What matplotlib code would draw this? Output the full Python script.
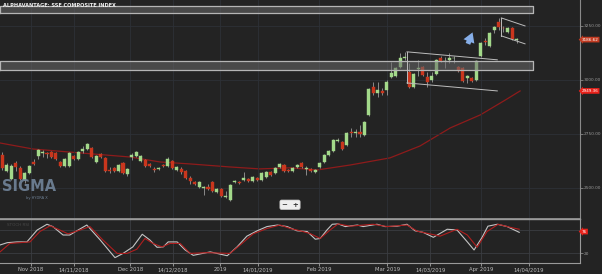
import matplotlib
matplotlib.use("Agg")
import matplotlib.pyplot as plt
import numpy as np

# daily candles, one per trading day (index 0 .. 115)
opens = [2653, 2579, 2542, 2616, 2593, 2537, 2569, 2620, 2648, 2662,
         2662, 2667, 2662, 2620, 2602, 2602, 2648, 2634, 2671, 2681,
         2685, 2620, 2657, 2639, 2583, 2593, 2579, 2616, 2565, 2644,
         2648, 2625, 2630, 2611, 2588, 2588, 2606, 2602, 2625, 2583,
         2588, 2579, 2546, 2528, 2505, 2500, 2505, 2528, 2481, 2495,
         2458, 2444, 2528, 2528, 2537, 2542, 2532, 2546, 2537, 2551,
         2574, 2569, 2597, 2606, 2583, 2579, 2597, 2616, 2588, 2588,
         2574, 2597, 2620, 2653, 2671, 2718, 2713, 2699, 2759, 2755,
         2759, 2745, 2838, 2968, 2940, 2949, 2954, 3014, 3019, 3060,
         3102, 3037, 2968, 3051, 3060, 3014, 3000, 3028, 3102, 3086,
         3093, 3100, 3060, 3056, 3009, 3009, 3000, 3111, 3181, 3157,
         3232, 3269, 3241, 3222, 3241, 3185]
highs = [2667, 2616, 2611, 2625, 2602, 2574, 2606, 2634, 2681, 2676,
         2667, 2671, 2667, 2625, 2639, 2667, 2653, 2671, 2694, 2708,
         2690, 2653, 2662, 2644, 2597, 2597, 2611, 2620, 2593, 2662,
         2671, 2653, 2634, 2616, 2597, 2597, 2611, 2644, 2630, 2602,
         2597, 2583, 2556, 2532, 2532, 2509, 2518, 2532, 2500, 2500,
         2486, 2518, 2537, 2532, 2574, 2546, 2556, 2551, 2574, 2579,
         2579, 2597, 2616, 2611, 2588, 2597, 2611, 2620, 2602, 2593,
         2588, 2620, 2657, 2676, 2727, 2732, 2718, 2759, 2778, 2773,
         2792, 2810, 2963, 2991, 2991, 2963, 3000, 3083, 3060, 3125,
         3130, 3079, 3032, 3093, 3065, 3037, 3037, 3097, 3111, 3107,
         3125, 3111, 3065, 3060, 3023, 3014, 3093, 3176, 3195, 3222,
         3250, 3287, 3250, 3245, 3245, 3195]
lows = [2583, 2574, 2537, 2579, 2537, 2523, 2565, 2606, 2634, 2644,
        2639, 2639, 2630, 2597, 2597, 2597, 2630, 2630, 2662, 2676,
        2639, 2616, 2639, 2574, 2569, 2574, 2574, 2565, 2556, 2630,
        2644, 2620, 2597, 2597, 2574, 2583, 2597, 2597, 2588, 2579,
        2565, 2542, 2518, 2514, 2500, 2468, 2491, 2481, 2477, 2458,
        2454, 2440, 2523, 2518, 2532, 2528, 2528, 2532, 2532, 2546,
        2556, 2565, 2593, 2574, 2574, 2574, 2593, 2593, 2560, 2574,
        2569, 2593, 2616, 2648, 2667, 2713, 2676, 2694, 2736, 2736,
        2736, 2741, 2833, 2931, 2921, 2931, 2931, 3009, 3014, 3056,
        3093, 2963, 2963, 3019, 3019, 2968, 2991, 3023, 3083, 3056,
        3079, 3079, 3037, 2991, 2986, 2991, 2995, 3107, 3162, 3153,
        3218, 3232, 3222, 3218, 3185, 3171]
closes = [2593, 2606, 2602, 2597, 2542, 2569, 2602, 2611, 2676, 2667,
          2657, 2644, 2634, 2602, 2634, 2662, 2634, 2667, 2681, 2704,
          2644, 2648, 2644, 2579, 2579, 2579, 2606, 2569, 2588, 2653,
          2667, 2648, 2602, 2602, 2583, 2593, 2602, 2634, 2593, 2597,
          2574, 2546, 2532, 2518, 2528, 2505, 2495, 2486, 2495, 2463,
          2463, 2514, 2532, 2523, 2546, 2532, 2551, 2537, 2569, 2574,
          2560, 2593, 2611, 2579, 2579, 2593, 2606, 2597, 2593, 2579,
          2583, 2616, 2653, 2671, 2722, 2722, 2681, 2755, 2755, 2759,
          2750, 2806, 2958, 2940, 2954, 2940, 2991, 3032, 3056, 3102,
          3107, 2968, 3028, 3056, 3023, 2991, 3019, 3093, 3088, 3088,
          3102, 3102, 3042, 2995, 3019, 2995, 3088, 3171, 3176, 3218,
          3245, 3245, 3239, 3241, 3190, 3186.62]

# moving average (read at a few points)
ma_idx = [-0.5, 6.9, 17.4, 28.6, 35.3, 42.0, 50.9, 57.6, 64.4, 70.4,
          77.8, 86.7, 93.4, 100.2, 106.9, 112.5, 115.8]
ma_vals = [2708, 2680, 2662, 2643, 2620, 2611, 2597, 2588, 2593, 2583,
           2606, 2639, 2694, 2778, 2838, 2907, 2949]

# oscillator panel
k_idx = [-0.5, 1.1, 3.3, 5.5, 7.8, 10.0, 11.3, 13.6, 15.1, 17.4,
         18.9, 21.9, 25.2, 27.0, 29.2, 31.3, 33.0, 34.6, 36.0, 37.1,
         39.1, 40.9, 42.7, 46.5, 50.3, 52.5, 54.7, 57.0, 59.2, 61.5,
         63.7, 65.9, 68.2, 70.0, 71.1, 72.6, 73.8, 75.1, 76.7, 79.4,
         80.7, 83.8, 85.6, 88.3, 90.5, 92.3, 94.1, 96.4, 99.5, 101.7,
         104.0, 105.5, 107.3, 108.6, 110.7, 112.9, 115.6]
k_vals = [41, 47, 49, 49, 80, 95, 89, 67, 67, 83,
          93, 54, 8, 19, 36, 69, 54, 35, 36, 49,
          49, 28, 14, 23, 13, 36, 64, 78, 89, 93,
          89, 78, 76, 56, 58, 80, 95, 96, 89, 93,
          89, 95, 89, 90, 95, 78, 74, 61, 82, 80,
          49, 28, 61, 90, 95, 89, 74]
d_idx = [-0.5, 1.7, 6.2, 8.4, 10.7, 12.5, 14.7, 17.4, 19.6, 22.5,
         25.7, 27.9, 30.1, 31.9, 33.7, 35.7, 37.5, 39.8, 42.0, 45.8,
         50.9, 53.2, 56.1, 59.2, 62.1, 64.4, 66.6, 68.8, 71.1, 73.3,
         75.1, 77.8, 82.9, 86.1, 90.5, 92.8, 95.2, 97.9, 101.7, 104.0,
         106.2, 108.4, 110.9, 113.6, 115.6]
d_vals = [23, 45, 49, 76, 91, 82, 70, 80, 89, 54,
          19, 19, 30, 58, 45, 36, 45, 45, 19, 21,
          19, 41, 70, 84, 93, 84, 78, 71, 58, 80,
          96, 90, 95, 89, 93, 77, 71, 64, 82, 67,
          35, 76, 95, 87, 82]

tick_pos = [6.4, 16.0, 28.6, 38.2, 48.7, 57.2, 70.8, 86.1, 95.7, 107.1, 117.8]
tick_labels = ["Nov 2018", "14/11/2018", "Dec 2018", "14/12/2018", "2019", "14/01/2019",
               "Feb 2019", "Mar 2019", "14/03/2019", "Apr 2019", "14/04/2019"]
price_ticks = [2500, 2750, 3000, 3250]

BG = "#232323"
GREEN = "#a3d98a"
RED = "#c9361d"
GRID = "#2d3137"
AXC = "#8a8a8a"

fig = plt.figure(figsize=(6.02, 2.74), dpi=100, facecolor=BG)
ax = fig.add_axes([0, 0.2007, 0.9635, 0.7993], facecolor=BG)
ax2 = fig.add_axes([0, 0.0401, 0.9635, 0.1606], facecolor=BG)

xmin, xmax = -0.51, 129.2

# --- main panel ---
o = np.array(opens, float)
h = np.array(highs, float)
l = np.array(lows, float)
c = np.array(closes, float)
x = np.arange(len(o))
up = c >= o
cols = np.where(up, GREEN, RED)
body_low = np.minimum(o, c)
body_h = np.maximum(np.abs(c - o), 3.0)

ax.vlines(x, l, h, color="#9a9a9a", lw=0.6, zorder=2)
ax.bar(x, body_h, bottom=body_low, width=0.68, color=cols, edgecolor=cols, lw=0.3, zorder=3)
ax.plot(ma_idx, ma_vals, color="#8e1b1b", lw=0.9, zorder=1)

# drawn zones and channels
for y0, y1 in [(3310, 3343), (3046, 3088)]:
    ax.fill_between([xmin, 118.7], y0, y1, color="#6a6a6a", alpha=0.55, lw=0, zorder=4)
    ax.plot([xmin, 118.7, 118.7, xmin, xmin], [y0, y0, y1, y1, y0], color="#b5b5b5", lw=0.9, zorder=4)

lc = "#bdbdbd"
ax.plot([90.5, 110.7], [3130, 3093], color=lc, lw=0.7, zorder=5)
ax.plot([90.5, 110.7], [2986, 2949], color=lc, lw=0.7, zorder=5)
ax.plot([90.5, 90.5], [3130, 2986], color=lc, lw=0.7, zorder=5)
ax.plot([111.6, 116.9], [3287, 3250], color=lc, lw=0.7, zorder=5)
ax.plot([111.6, 116.9], [3204, 3167], color=lc, lw=0.7, zorder=5)
ax.plot([111.6, 111.6], [3287, 3204], color=lc, lw=0.7, zorder=5)

ax.annotate("", xy=(105.4, 3232), xytext=(103.9, 3155),
            arrowprops=dict(arrowstyle="simple,head_length=0.5,head_width=0.6,tail_width=0.25",
                            mutation_scale=14, color="#86aee8", lw=0), zorder=6)

ax.set_xlim(xmin, xmax)
ax.set_ylim(2356, 3370)
ax.yaxis.tick_right()
ax.set_yticks(price_ticks)
ax.set_yticklabels([f"{v:.2f}" for v in price_ticks])
ax.tick_params(axis="y", labelsize=3.1, colors="#9a9a9a", length=2, width=0.5, pad=0.8)
ax.set_xticks(tick_pos)
ax.tick_params(axis="x", length=0, labelbottom=False)
ax.grid(True, color=GRID, lw=0.6)
for s in ["left", "top"]:
    ax.spines[s].set_visible(False)
ax.spines["right"].set_color(AXC)
ax.spines["bottom"].set_color("#9a9a9a")
ax.spines["bottom"].set_linewidth(1.2)

ax.text(0.005, 0.985, "ALPHAVANTAGE: SSE COMPOSITE INDEX", transform=ax.transAxes,
        fontsize=3.6, color="#f0f0f0", fontweight="bold", va="top", ha="left", zorder=7)
ax.text(0.004, 0.115, "SIGMA", transform=ax.transAxes, fontsize=10.5, color="#71849a",
        fontweight="bold", va="bottom", ha="left", alpha=0.9)
ax.text(0.045, 0.085, "by HYDRA X", transform=ax.transAxes, fontsize=2.6, color="#6f8195",
        va="bottom", ha="left")

# zoom widget
ax.text(0.5, 0.065, "\u2212  +", transform=ax.transAxes, fontsize=5, color="#333333",
        fontweight="bold", ha="center", va="center",
        bbox=dict(boxstyle="round,pad=0.25", fc="#eeeeee", ec="#cccccc", lw=0.5))

# price tags
ax.text(1.003, closes[-1], f"{closes[-1]:.2f}", transform=ax.get_yaxis_transform(),
        fontsize=3.0, color="white", va="center", ha="left", clip_on=False,
        bbox=dict(boxstyle="larrow,pad=0.2", fc="#c23b22", ec="none"))
ax.text(1.003, ma_vals[-1], "2949.36", transform=ax.get_yaxis_transform(),
        fontsize=3.0, color="white", va="center", ha="left", clip_on=False,
        bbox=dict(boxstyle="larrow,pad=0.2", fc="#e8211a", ec="none"))

# --- oscillator panel ---
ax2.plot(k_idx, k_vals, color="#c4c4c4", lw=0.8)
ax2.plot(d_idx, d_vals, color="#b01e1e", lw=0.8)
ax2.set_xlim(xmin, xmax)
ax2.set_ylim(-6, 108.7)
ax2.yaxis.tick_right()
ax2.set_yticks([20, 80])
ax2.set_yticklabels(["20", ""])
ax2.tick_params(axis="y", labelsize=3.1, colors="#9a9a9a", length=2, width=0.5, pad=0.8)
ax2.set_xticks(tick_pos)
ax2.set_xticklabels(tick_labels)
ax2.tick_params(axis="x", labelsize=3.8, colors="#bdbdbd", length=2, width=0.5, pad=1)
ax2.grid(True, color="#3a3d42", lw=0.6)
ax2.spines["left"].set_visible(False)
for s in ["top", "bottom", "right"]:
    ax2.spines[s].set_color("#9a9a9a")
ax2.spines["top"].set_linewidth(1.0)
ax2.text(0.012, 0.9, "STOCH RSI", transform=ax2.transAxes, fontsize=3, color="#484848",
         va="top", ha="left")
ax2.text(1.003, d_vals[-1] - 6, "76", transform=ax2.get_yaxis_transform(),
         fontsize=3.0, color="white", va="center", ha="left", clip_on=False,
         bbox=dict(boxstyle="larrow,pad=0.2", fc="#e8211a", ec="none"))

fig.savefig("out.png", dpi=100, facecolor=BG)
